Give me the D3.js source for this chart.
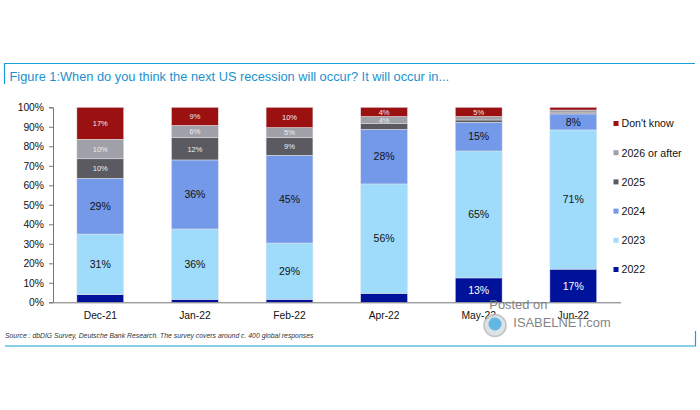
<!DOCTYPE html>
<html>
<head>
<meta charset="utf-8">
<script src="https://cdnjs.cloudflare.com/ajax/libs/d3/7.8.5/d3.min.js"></script>
<style>
  html, body { margin: 0; padding: 0; background: #fff; }
  text { font-family: "Liberation Sans", Arial, sans-serif; }
</style>
</head>
<body>
<svg id="chart" width="700" height="410" style="display:block"></svg>
<script>
var months = ["Dec-21", "Jan-22", "Feb-22", "Apr-22", "May-22", "Jun-22"]
var keys = ["2022", "2023", "2024", "2025", "2026 or after", "Don't know"]
var colors = ["#00129a", "#9fdcfc", "#7499e8", "#5a5a60", "#a0a0a8", "#9b1010"]
var textColors = ["#fff", "#111", "#111", "#eee", "#eee", "#eee"]

// one list per answer
var y2022 = [3.9, 1.5, 1.5, 4.6, 12.5, 17]
var y2023 = [31.1, 36.1, 28.9, 56.1, 65.1, 71.4]
var y2024 = [28.6, 35.4, 45, 28, 14.7, 8.2]
var y2025 = [10, 11.4, 9.1, 2.9, 1.2, 0.5]
var y2026 = [10, 6.3, 5.1, 3.7, 1.8, 1.5]
var yDontKnow = [16.4, 9.3, 10.4, 4.7, 4.7, 1.4]

// printed labels, null where the bar has none
var label2022 = [null, null, null, null, "13%", "17%"]
var label2023 = ["31%", "36%", "29%", "56%", "65%", "71%"]
var label2024 = ["29%", "36%", "45%", "28%", "15%", "8%"]
var label2025 = ["10%", "12%", "9%", null, null, null]
var label2026 = ["10%", "6%", "5%", "4%", null, null]
var labelDontKnow = ["17%", "9%", "10%", "4%", "5%", null]

var values = [y2022, y2023, y2024, y2025, y2026, yDontKnow]
var labels = [label2022, label2023, label2024, label2025, label2026, labelDontKnow]
var yTicks = d3.range(0, 101, 10)

var svg = d3.select("#chart")

var x = d3.scaleBand().domain(months).range([53, 620.6]).paddingInner(0.505).paddingOuter(0.2525)
var y = d3.scaleLinear().domain([0, 100]).range([302.3, 107.3])

// frame around the figure
var blue = "#1b9fdc"
svg.append("path")
    .attr("d", "M4.5,84V63.5H695")
    .attr("fill", "none").attr("stroke", blue).attr("stroke-width", 1.2)
svg.append("path")
    .attr("d", "M5,346H695.5V331")
    .attr("fill", "none").attr("stroke", blue).attr("stroke-width", 1.2)

svg.append("text")
    .attr("x", 9.5).attr("y", 81)
    .attr("font-size", 12.8).attr("fill", "#1a92cf")
    .text("Figure 1:When do you think the next US recession will occur? It will occur in...")

// stacked bars
var rows = months.map(function(m, i) {
    var row = {month: m}
    keys.forEach(function(k, j) { row[k] = values[j][i] })
    return row
})
var stacked = d3.stack().keys(keys)(rows)

stacked.forEach(function(layer, j) {
    svg.append("g").selectAll("rect")
        .data(layer)
        .join("rect")
        .attr("x", d => x(d.data.month))
        .attr("width", x.bandwidth())
        .attr("y", d => y(d[1]))
        .attr("height", d => y(d[0]) - y(d[1]))
        .attr("fill", colors[j])
        .attr("stroke", "#e4e4ea")
        .attr("stroke-width", 0.5)

    svg.append("g").selectAll("text")
        .data(layer)
        .join("text")
        .attr("x", d => x(d.data.month) + x.bandwidth() / 2)
        .attr("y", d => (y(d[0]) + y(d[1])) / 2)
        .attr("dy", "0.36em")
        .attr("text-anchor", "middle")
        .attr("font-size", j < 3 ? 10.5 : 7.5)
        .attr("fill", textColors[j])
        .text((d, i) => labels[j][i])
})

// axes
var yAxis = d3.axisLeft(y).tickValues(yTicks).tickFormat(d => d + "%").tickSize(4).tickPadding(5)
var gy = svg.append("g").attr("transform", "translate(53,0)").call(yAxis)
gy.selectAll("text").attr("font-size", 10.3).attr("fill", "#111").style("font-family", '"Liberation Sans", Arial, sans-serif')
gy.selectAll("line, path").attr("stroke", "#777")

var xAxis = d3.axisBottom(x).tickSize(0).tickPadding(9)
var gx = svg.append("g").attr("transform", "translate(0,302.3)").call(xAxis)
gx.selectAll("text").attr("font-size", 10.3).attr("fill", "#111").style("font-family", '"Liberation Sans", Arial, sans-serif')
gx.selectAll("path").attr("stroke", "#777")

// legend, top entry is the last series
var legendY = d3.scalePoint().domain(keys.slice().reverse()).range([123.5, 269.5])
var legend = svg.append("g").selectAll("g")
    .data(keys)
    .join("g")
    .attr("transform", d => "translate(613.5," + legendY(d) + ")")
legend.append("rect")
    .attr("x", 0).attr("y", -2.5).attr("width", 5).attr("height", 5)
    .attr("fill", (d, i) => colors[i])
legend.append("text")
    .attr("x", 8).attr("dy", "0.36em")
    .attr("font-size", 10.6).attr("fill", "#111")
    .text(d => d)

svg.append("text")
    .attr("x", 5).attr("y", 338)
    .attr("font-size", 6.85).attr("font-style", "italic").attr("fill", "#333")
    .text("Source : dbDIG Survey, Deutsche Bank Research. The survey covers around c. 400 global responses")

// watermark
svg.append("circle").attr("cx", 495).attr("cy", 325.5).attr("r", 11)
    .attr("fill", "#d8dde0").attr("stroke", "#b5b9bc").attr("stroke-width", 1.5).attr("opacity", 0.85)
svg.append("circle").attr("cx", 495).attr("cy", 324).attr("r", 6.5)
    .attr("fill", "#62b8e4")
svg.append("text").attr("x", 489.3).attr("y", 309)
    .attr("font-size", 12.9).attr("fill", "#777").attr("opacity", 0.9).text("Posted on")
svg.append("text").attr("x", 513.3).attr("y", 327)
    .attr("font-size", 12.9).attr("fill", "#777").attr("opacity", 0.9).text("ISABELNET.com")
</script>
</body>
</html>
